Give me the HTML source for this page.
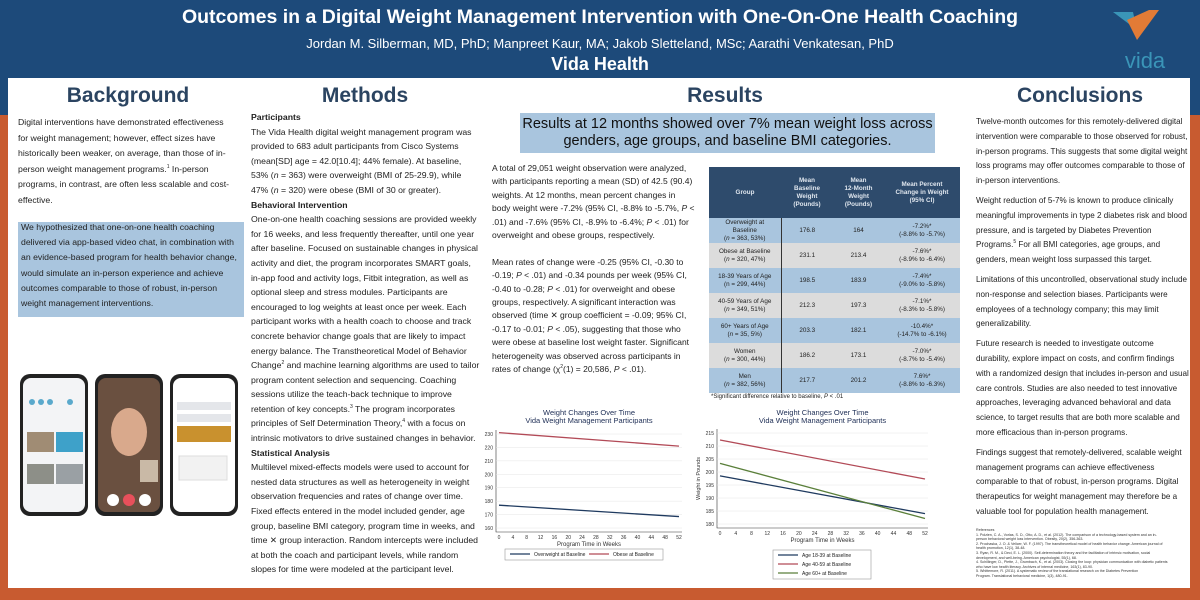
<!DOCTYPE html>
<html><head><meta charset="utf-8">
<style>
*{margin:0;padding:0;box-sizing:border-box}
body{width:1200px;height:600px;position:relative;overflow:hidden;background:#c85b30;font-family:"Liberation Sans",sans-serif;color:#222}
.hdr{position:absolute;left:0;top:0;width:1200px;height:115px;background:#1d4a7a}
.panel{position:absolute;left:8px;top:78px;width:1182px;height:510px;background:#fff}
.ab{position:absolute;white-space:nowrap}
.h2{position:absolute;font-weight:bold;font-size:21px;color:#2b4461;text-align:center}
.txt{position:absolute;white-space:nowrap;font-size:8.7px;line-height:15px;color:#222}
.txt b{font-weight:bold}
.txt p{margin-bottom:5px}
sup{font-size:5px;vertical-align:4px;line-height:0}
table{border-collapse:collapse}
</style></head><body>
<div class="hdr"></div>
<div class="ab" style="left:0;width:1200px;text-align:center;top:6px;font-size:19.5px;font-weight:bold;color:#fff">Outcomes in a Digital Weight Management Intervention with One-On-One Health Coaching</div>
<div class="ab" style="left:0;width:1200px;text-align:center;top:36px;font-size:13px;color:#fff">Jordan M. Silberman, MD, PhD; Manpreet Kaur, MA; Jakob Sletteland, MSc; Aarathi Venkatesan, PhD</div>
<div class="ab" style="left:0;width:1200px;text-align:center;top:54px;font-size:18px;font-weight:bold;color:#fff">Vida Health</div>
<svg class="ab" style="left:1105px;top:6px" width="80" height="65">
<polygon points="8,6 28,6 32,24" fill="#3a95b8"/>
<polygon points="32,34 22,14 44,4 54,4" fill="#e27b36"/>
<text x="40" y="62" font-size="22" fill="#3a95b8" text-anchor="middle" font-family="Liberation Sans">vida</text>
</svg>
<div class="panel"></div>

<div class="h2" style="left:18px;width:220px;top:84px">Background</div>
<div class="txt" style="left:18px;top:115px;line-height:15.6px">Digital interventions have demonstrated effectiveness<br>for weight management; however, effect sizes have<br>historically been weaker, on average, than those of in-<br>person weight management programs.<sup>1</sup> In-person<br>programs, in contrast, are often less scalable and cost-<br>effective.</div>
<div class="ab" style="left:18px;top:222px;width:226px;height:95px;background:#a9c5de"></div>
<div class="txt" style="left:21px;top:220px;line-height:15.2px">We hypothesized that one-on-one health coaching<br>delivered via app-based video chat, in combination with<br>an evidence-based program for health behavior change,<br>would simulate an in-person experience and achieve<br>outcomes comparable to those of robust, in-person<br>weight management interventions.</div>
<svg class="ab" style="left:18px;top:372px" width="225" height="150">
<g><rect x="2" y="2" width="68" height="142" rx="10" fill="#222"/><rect x="5" y="6" width="62" height="134" rx="8" fill="#f3f4f6"/><rect x="9" y="60" width="27" height="20" fill="#a08c74"/><rect x="38" y="60" width="27" height="20" fill="#3ea1c9"/><rect x="9" y="92" width="27" height="20" fill="#8d8f88"/><rect x="38" y="92" width="27" height="20" fill="#9aa0a4"/><circle cx="14" cy="30" r="3" fill="#5aa9cc"/><circle cx="23" cy="30" r="3" fill="#5aa9cc"/><circle cx="32" cy="30" r="3" fill="#5aa9cc"/><circle cx="52" cy="30" r="3" fill="#5aa9cc"/></g>
<g><rect x="77" y="2" width="68" height="142" rx="10" fill="#222"/><rect x="80" y="6" width="62" height="134" rx="8" fill="#6a5040"/><ellipse cx="111" cy="60" rx="18" ry="24" fill="#d9a98c"/><rect x="122" y="88" width="18" height="22" fill="#c9b9a6"/><circle cx="95" cy="128" r="6" fill="#fff"/><circle cx="111" cy="128" r="6" fill="#e8505b"/><circle cx="127" cy="128" r="6" fill="#fff"/></g>
<g><rect x="152" y="2" width="68" height="142" rx="10" fill="#222"/><rect x="155" y="6" width="62" height="134" rx="8" fill="#fff"/><rect x="159" y="30" width="54" height="8" fill="#e4e6ea"/><rect x="159" y="42" width="54" height="8" fill="#e4e6ea"/><rect x="159" y="54" width="54" height="16" fill="#c9912e"/><rect x="161" y="84" width="48" height="24" fill="#f2f2f2" stroke="#ddd"/></g>
</svg>

<div class="h2" style="left:250px;width:230px;top:84px">Methods</div>
<div class="txt" style="left:251px;top:110px;line-height:14.6px"><b>Participants</b><br>The Vida Health digital weight management program was<br>provided to 683 adult participants from Cisco Systems<br>(mean[SD] age = 42.0[10.4]; 44% female). At baseline,<br>53% (<i>n</i> = 363) were overweight (BMI of 25-29.9), while<br>47% (<i>n</i> = 320) were obese (BMI of 30 or greater).<br><b>Behavioral Intervention</b><br>One-on-one health coaching sessions are provided weekly<br>for 16 weeks, and less frequently thereafter, until one year<br>after baseline. Focused on sustainable changes in physical<br>activity and diet, the program incorporates SMART goals,<br>in-app food and activity logs, Fitbit integration, as well as<br>optional sleep and stress modules. Participants are<br>encouraged to log weights at least once per week. Each<br>participant works with a health coach to choose and track<br>concrete behavior change goals that are likely to impact<br>energy balance. The Transtheoretical Model of Behavior<br>Change<sup>2</sup> and machine learning algorithms are used to tailor<br>program content selection and sequencing. Coaching<br>sessions utilize the teach-back technique to improve<br>retention of key concepts.<sup>3</sup> The program incorporates<br>principles of Self Determination Theory,<sup>4</sup> with a focus on<br>intrinsic motivators to drive sustained changes in behavior.<br><b>Statistical Analysis</b><br>Multilevel mixed-effects models were used to account for<br>nested data structures as well as heterogeneity in weight<br>observation frequencies and rates of change over time.<br>Fixed effects entered in the model included gender, age<br>group, baseline BMI category, program time in weeks, and<br>time ✕ group interaction. Random intercepts were included<br>at both the coach and participant levels, while random<br>slopes for time were modeled at the participant level.</div>

<div class="h2" style="left:490px;width:470px;top:84px">Results</div>
<div class="ab" style="left:520px;top:113px;width:415px;height:40px;background:#a9c5de;text-align:center;font-size:14.5px;line-height:17px;padding-top:3px;color:#111">Results at 12 months showed over 7% mean weight loss across<br>genders, age groups, and baseline BMI categories.</div>
<div class="txt" style="left:492px;top:162px;line-height:13.4px;font-size:8.5px">A total of 29,051 weight observation were analyzed,<br>with participants reporting a mean (SD) of 42.5 (90.4)<br>weights. At 12 months, mean percent changes in<br>body weight were -7.2% (95% CI, -8.8% to -5.7%, <i>P</i> &lt;<br>.01) and -7.6% (95% CI, -8.9% to -6.4%; <i>P</i> &lt; .01) for<br>overweight and obese groups, respectively.<br><br>Mean rates of change were -0.25 (95% CI, -0.30 to<br>-0.19; <i>P</i> &lt; .01) and -0.34 pounds per week (95% CI,<br>-0.40 to -0.28; <i>P</i> &lt; .01) for overweight and obese<br>groups, respectively. A significant interaction was<br>observed (time ✕ group coefficient = -0.09; 95% CI,<br>-0.17 to -0.01; <i>P</i> &lt; .05), suggesting that those who<br>were obese at baseline lost weight faster. Significant<br>heterogeneity was observed across participants in<br>rates of change (χ<sup>2</sup>(1) = 20,586, <i>P</i> &lt; .01).</div>

<table class="ab" style="left:709px;top:167px;width:251px;font-size:6.3px;text-align:center;line-height:8px">
<tr style="background:#2e4b6c;color:#dfe6ee;height:51px;font-weight:bold"><td style="width:72px">Group</td><td style="width:52px">Mean<br>Baseline<br>Weight<br>(Pounds)</td><td style="width:51px">Mean<br>12-Month<br>Weight<br>(Pounds)</td><td>Mean Percent<br>Change in Weight<br>(95% CI)</td></tr>
<tr style="background:#a9c5de;height:25px"><td style="border-right:1px solid #333">Overweight at<br>Baseline<br>(<i>n</i> = 363, 53%)</td><td>176.8</td><td>164</td><td>-7.2%*<br>(-8.8% to -5.7%)</td></tr>
<tr style="background:#dcdcdc;height:25px"><td style="border-right:1px solid #333">Obese at Baseline<br>(<i>n</i> = 320, 47%)</td><td>231.1</td><td>213.4</td><td>-7.6%*<br>(-8.9% to -6.4%)</td></tr>
<tr style="background:#a9c5de;height:25px"><td style="border-right:1px solid #333">18-39 Years of Age<br>(n = 299, 44%)</td><td>198.5</td><td>183.9</td><td>-7.4%*<br>(-9.0% to -5.8%)</td></tr>
<tr style="background:#dcdcdc;height:25px"><td style="border-right:1px solid #333">40-59 Years of Age<br>(<i>n</i> = 349, 51%)</td><td>212.3</td><td>197.3</td><td>-7.1%*<br>(-8.3% to -5.8%)</td></tr>
<tr style="background:#a9c5de;height:25px"><td style="border-right:1px solid #333">60+ Years of Age<br>(<i>n</i> = 35, 5%)</td><td>203.3</td><td>182.1</td><td>-10.4%*<br>(-14.7% to -6.1%)</td></tr>
<tr style="background:#dcdcdc;height:25px"><td style="border-right:1px solid #333">Women<br>(<i>n</i> = 300, 44%)</td><td>186.2</td><td>173.1</td><td>-7.0%*<br>(-8.7% to -5.4%)</td></tr>
<tr style="background:#a9c5de;height:25px"><td style="border-right:1px solid #333">Men<br>(<i>n</i> = 382, 56%)</td><td>217.7</td><td>201.2</td><td>7.6%*<br>(-8.8% to -6.3%)</td></tr>
</table>
<div class="ab" style="left:711px;top:394px;font-size:6px">*Significant difference relative to baseline, <i>P</i> &lt; .01</div>

<svg class="ab" id="chart1" style="left:480px;top:405px" width="215" height="165"></svg>
<svg class="ab" id="chart2" style="left:695px;top:405px" width="245" height="180"></svg>

<div class="h2" style="left:970px;width:220px;top:84px">Conclusions</div>
<div class="txt" style="left:976px;top:115px;line-height:14.8px;font-size:8.1px">
<p>Twelve-month outcomes for this remotely-delivered digital<br>intervention were comparable to those observed for robust,<br>in-person programs. This suggests that some digital weight<br>loss programs may offer outcomes comparable to those of<br>in-person interventions.</p>
<p>Weight reduction of 5-7% is known to produce clinically<br>meaningful improvements in type 2 diabetes risk and blood<br>pressure, and is targeted by Diabetes Prevention<br>Programs.<sup>5</sup> For all BMI categories, age groups, and<br>genders, mean weight loss surpassed this target.</p>
<p>Limitations of this uncontrolled, observational study include<br>non-response and selection biases. Participants were<br>employees of a technology company; this may limit<br>generalizability.</p>
<p>Future research is needed to investigate outcome<br>durability, explore impact on costs, and confirm findings<br>with a randomized design that includes in-person and usual<br>care controls. Studies are also needed to test innovative<br>approaches, leveraging advanced behavioral and data<br>science, to target results that are both more scalable and<br>more efficacious than in-person programs.</p>
<p>Findings suggest that remotely-delivered, scalable weight<br>management programs can achieve effectiveness<br>comparable to that of robust, in-person programs. Digital<br>therapeutics for weight management may therefore be a<br>valuable tool for population health management.</p></div>
<div class="ab" style="left:976px;top:528px;font-size:3.6px;line-height:4.6px;color:#333">References<br>1. Polzien, C. A., Vorlas, S. D., Otto, A. D., et al. (2012). The comparison of a technology-based system and an in-<br>person behavioral weight loss intervention. Obesity, 20(2), 356-363.<br>2. Prochaska, J. O. &amp; Velicer, W. F. (1997). The transtheoretical model of health behavior change. American journal of<br>health promotion, 12(1), 38-48.<br>3. Ryan, R. M., &amp; Deci, E. L. (2000). Self-determination theory and the facilitation of intrinsic motivation, social<br>development, and well-being. American psychologist, 55(1), 68.<br>4. Schillinger, D., Piette, J., Grumbach, K., et al. (2003). Closing the loop: physician communication with diabetic patients<br>who have low health literacy. Archives of internal medicine, 163(1), 83-90.<br>5. Whittemore, R. (2011). A systematic review of the translational research on the Diabetes Prevention<br>Program. Translational behavioral medicine, 1(3), 480-91.</div>

<script>
const weeks = [0, 52];
const xTicks = [0,4,8,12,16,20,24,28,32,36,40,44,48,52];
const bmiNames = ["Overweight at Baseline", "Obese at Baseline"];
const bmiOverweight = [177, 168.5];
const bmiObese = [231, 221];
const bmiTicks = [160,170,180,190,200,210,220,230];
const ageNames = ["Age 18-39 at Baseline", "Age 40-59 at Baseline", "Age 60+ at Baseline"];
const age1839 = [198.5, 184];
const age4059 = [212.3, 197.3];
const age60 = [203.3, 182.1];
const ageTicks = [180,185,190,195,200,205,210,215];
const NS = "http://www.w3.org/2000/svg";
function mk(svg, tag, attrs, text){const e=document.createElementNS(NS,tag);for(const k in attrs)e.setAttribute(k,attrs[k]);if(text!==undefined)e.textContent=text;svg.appendChild(e);return e;}
function draw(id, cfg){
  const svg=document.getElementById(id);
  const {x0,x1,yTop,yBot,vMin,vMax,ticks,series,names,colors,legend}=cfg;
  const sx=w=>x0+(w-0)/(52-0)*(x1-x0);
  const sy=v=>yBot-(v-vMin)/(vMax-vMin)*(yBot-yTop);
  const t1=mk(svg,"text",{x:(x0+x1)/2,y:10,"font-size":7.5,"text-anchor":"middle",fill:"#1e2e55"},"Weight Changes Over Time");
  
  
  const t2=mk(svg,"text",{x:(x0+x1)/2,y:18,"font-size":7.5,"text-anchor":"middle",fill:"#1e2e55"},"Vida Weight Management Participants");
  
  
  const ax=mk(svg,"path",{d:`M${x0-3},${yTop-4}V${yBot+4}H${x1+3}`,stroke:"#333","stroke-width":0.6,fill:"none"});
  
  
  ticks.forEach(v=>{
    const g=mk(svg,"line",{x1:x0-3,x2:x1+3,y1:sy(v),y2:sy(v),stroke:"#e6e6e6","stroke-width":0.5});
    
    
    const l=mk(svg,"text",{x:x0-6,y:sy(v)+2,"font-size":5,"text-anchor":"end",fill:"#333"},String(v));
    
    
  });
  xTicks.forEach(w=>{
    const l=mk(svg,"text",{x:sx(w),y:yBot+11,"font-size":5,"text-anchor":"middle",fill:"#333"},String(w));
    
    
  });
  const xl=mk(svg,"text",{x:(x0+x1)/2,y:yBot+18,"font-size":6,"text-anchor":"middle",fill:"#333"},"Program Time in Weeks");
  
  
  const yl=mk(svg,"text",{x:0,y:0,"font-size":5.5,"text-anchor":"middle",fill:"#333",transform:`translate(${x0-20},${(yTop+yBot)/2}) rotate(-90)`},"Weight in Pounds");
  
  
  series.forEach((s,i)=>{
    const ln=mk(svg,"line",{x1:sx(weeks[0]),y1:sy(s[0]),x2:sx(weeks[1]),y2:sy(s[1]),stroke:colors[i],"stroke-width":1.3});
    
    
  });
  const lb=mk(svg,"rect",{x:legend.x,y:legend.y,width:legend.w,height:legend.h,fill:"#fff",stroke:"#999","stroke-width":0.6});
  
  
  names.forEach((n,i)=>{
    const px=legend.x+5+(legend.horiz?i*legend.w/2:0), py=legend.y+7+(legend.horiz?0:i*9);
    const k=mk(svg,"line",{x1:px,x2:px+20,y1:py-2,y2:py-2,stroke:colors[i],"stroke-width":1.3});
    
    
    const t=mk(svg,"text",{x:px+24,y:py,"font-size":5,fill:"#222"},n);
    
    
  });
}
draw("chart1",{x0:19,x1:199,yTop:29,yBot:123,vMin:160,vMax:230,ticks:bmiTicks,series:[bmiOverweight,bmiObese],names:bmiNames,colors:["#1f3a5f","#b24a57"],legend:{x:25,y:144,w:158,h:11,horiz:true}});
draw("chart2",{x0:25,x1:230,yTop:28,yBot:119,vMin:180,vMax:215,ticks:ageTicks,series:[age1839,age4059,age60],names:ageNames,colors:["#1f3a5f","#b24a57","#5a7f3a"],legend:{x:78,y:145,w:98,h:29,horiz:false}});
</script>
</body></html>
